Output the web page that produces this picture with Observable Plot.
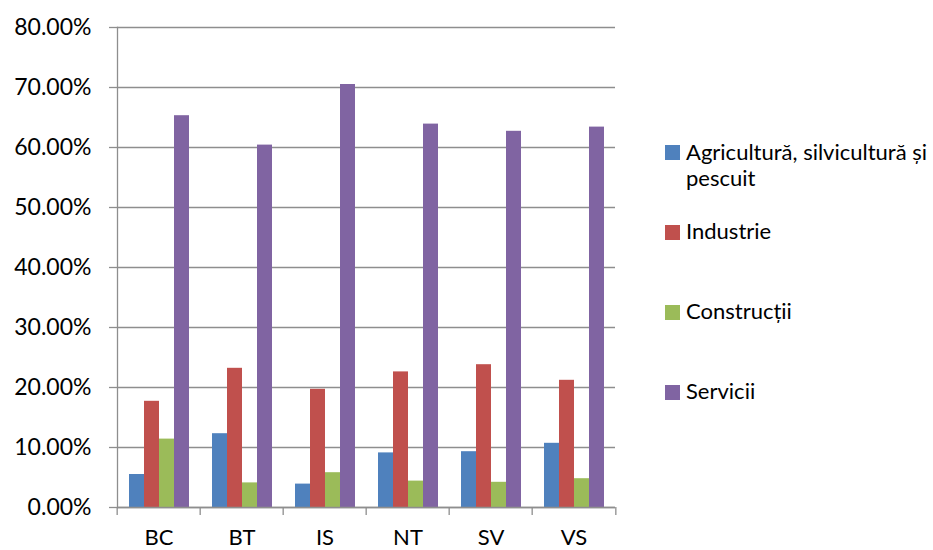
<!DOCTYPE html>
<html>
<head>
<meta charset="utf-8">
<script src="https://cdn.jsdelivr.net/npm/d3@7"></script>
<script src="https://cdn.jsdelivr.net/npm/@observablehq/plot@0.6"></script>
<style>
  html, body { margin: 0; padding: 0; background: #fff; }
  #wrap { position: relative; width: 933px; height: 550px; font-family: Lato, "Open Sans", sans-serif; }
  #chart { position: absolute; left: 0; top: 0; }
  .legend-item { position: absolute; left: 665px; display: flex; align-items: flex-start; font-size: 22px; line-height: 26px; color: #000; }
  .legend-item .sw { width: 15px; height: 15px; margin-right: 6px; flex: none; }
</style>
</head>
<body>
<div id="wrap"><div id="chart"></div><div id="legend"></div></div>
<script>
const categories = ["BC", "BT", "IS", "NT", "SV", "VS"];
const seriesNames = ["Agricultură, silvicultură și pescuit", "Industrie", "Construcții", "Servicii"];
const agricultura = [0.055, 0.123, 0.039, 0.091, 0.093, 0.107];
const industrie   = [0.177, 0.232, 0.197, 0.226, 0.238, 0.212];
const constructii = [0.114, 0.041, 0.058, 0.044, 0.042, 0.048];
const servicii    = [0.653, 0.604, 0.705, 0.639, 0.627, 0.634];
const yTicks = [0, 0.1, 0.2, 0.3, 0.4, 0.5, 0.6, 0.7, 0.8];
const colors = ["#4F81BD", "#C0504D", "#9BBB59", "#8064A2"];

const seriesValues = [agricultura, industrie, constructii, servicii];
const rows = [];
categories.forEach((c, i) => seriesNames.forEach((s, j) => rows.push({cat: c, series: s, value: seriesValues[j][i]})));

const width = 640, height = 550;
const marginLeft = 115, marginRight = 23, marginTop = 27, marginBottom = 43;
const step = (width - marginLeft - marginRight) / categories.length;
const gridColor = "#8e8e8e";

const plot = Plot.plot({
  width, height, marginLeft, marginRight, marginTop, marginBottom,
  style: {fontFamily: "Lato, 'Open Sans', sans-serif", color: "#000", background: "#fff"},
  fx: {domain: categories, padding: 0, label: null},
  x: {domain: seriesNames, paddingInner: 0, paddingOuter: 0.75, axis: null},
  y: {domain: [0, 0.8], label: null},
  color: {domain: seriesNames, range: colors},
  marks: [
    Plot.gridY({ticks: yTicks, stroke: gridColor, strokeOpacity: 1, strokeWidth: 1.3}),
    Plot.axisY({ticks: yTicks, tickFormat: d3.format(".2%"), tickSize: 8, tickPadding: 18, fontSize: 23, stroke: gridColor, strokeWidth: 1.3, label: null, fill: "#000"}),
    Plot.frame({anchor: "left", facetAnchor: "left", stroke: gridColor, strokeWidth: 1.3}),
    Plot.barY(rows, {fx: "cat", x: "series", y: "value", fill: "series"}),
    Plot.ruleY([0], {stroke: gridColor, strokeWidth: 1.3}),
    Plot.axisFx({anchor: "bottom", tickSize: 0, tickPadding: 22, fontSize: 22, label: null, fill: "#000"}),
    Plot.axisFx({anchor: "bottom", tickSize: 8, tickFormat: () => "", label: null, dx: -step / 2, stroke: gridColor, strokeWidth: 1.3}),
    Plot.axisFx({anchor: "bottom", ticks: [categories[categories.length - 1]], tickSize: 8, tickFormat: () => "", label: null, dx: step / 2, stroke: gridColor, strokeWidth: 1.3})
  ]
});
document.getElementById("chart").appendChild(plot);

// Legend (HTML)
const legendTops = [139, 218, 298, 378];
const legendLabels = ["Agricultură, silvicultură și<br>pescuit", "Industrie", "Construcții", "Servicii"];
const legend = document.getElementById("legend");
seriesNames.forEach((s, i) => {
  const item = document.createElement("div");
  item.className = "legend-item";
  item.style.top = legendTops[i] + "px";
  const sw = document.createElement("div");
  sw.className = "sw";
  sw.style.background = colors[i];
  sw.style.marginTop = (i === 0 ? 6 : 7) + "px";
  const t = document.createElement("div");
  t.innerHTML = legendLabels[i];
  item.appendChild(sw);
  item.appendChild(t);
  legend.appendChild(item);
});
</script>
</body>
</html>
